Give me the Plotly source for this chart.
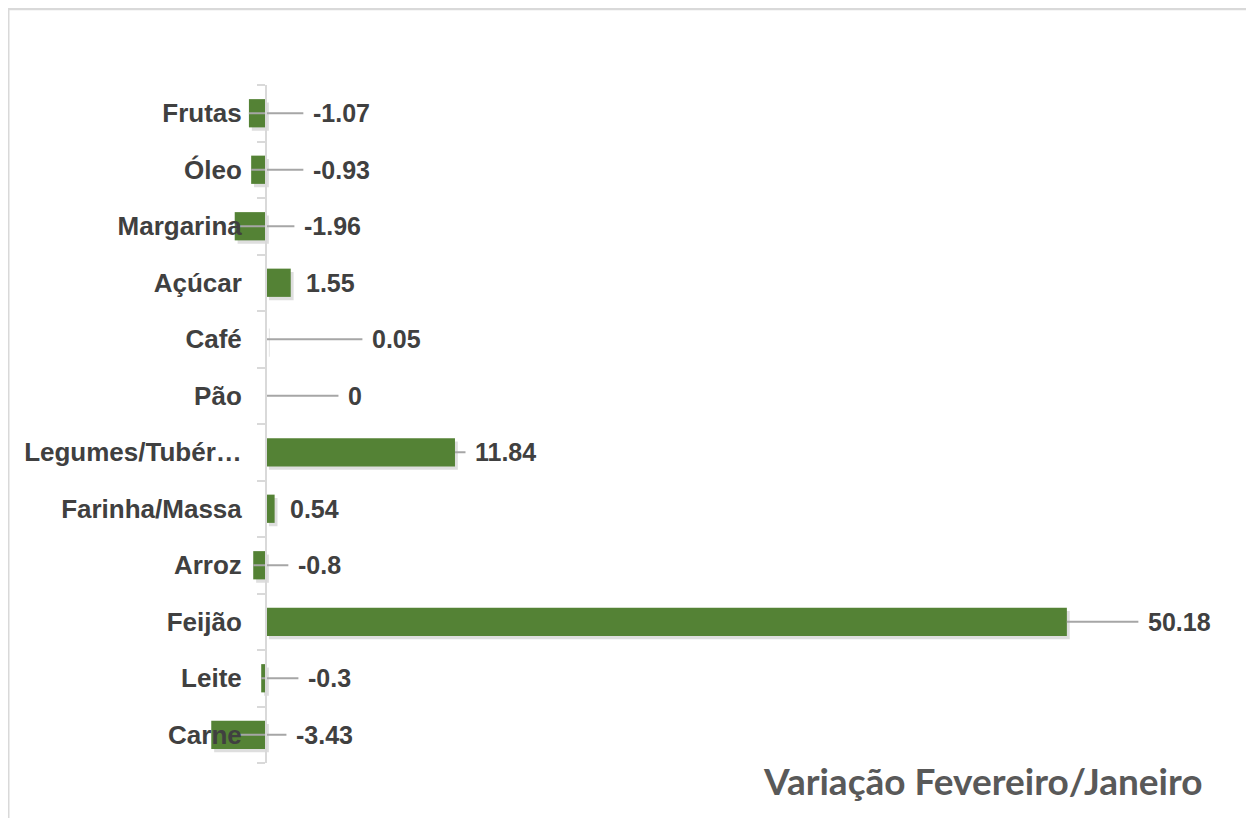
import plotly.graph_objects as go

# ---- data (bottom to top, as drawn) ----
categories = ["Carne", "Leite", "Feijão", "Arroz", "Farinha/Massa", "Legumes/Tubérculos",
              "Pão", "Café", "Açúcar", "Margarina", "Óleo", "Frutas"]
tick_labels = ["Carne", "Leite", "Feijão", "Arroz", "Farinha/Massa", "Legumes/Tubér…",
               "Pão", "Café", "Açúcar", "Margarina", "Óleo", "Frutas"]
values = [-3.43, -0.3, 50.18, -0.8, 0.54, 11.84, 0, 0.05, 1.55, -1.96, -0.93, -1.07]
value_labels = ["-3.43", "-0.3", "50.18", "-0.8", "0.54", "11.84", "0", "0.05", "1.55", "-1.96", "-0.93", "-1.07"]
footer_text = "Variação Fevereiro/Janeiro"

# ---- layout (label placement, in axis units) ----
label_x = [1.78, 2.53, 55.16, 1.9, 1.40, 13.0, 5.04, 6.54, 2.41, 2.28, 2.84, 2.84]
show_leader = [True, True, True, True, False, True, True, True, False, True, True, True]

OFF = 8  # page body margin
W, H = 1254, 818
# page-pixel targets
PLOT_LEFT, PLOT_RIGHT, PLOT_TOP, PLOT_BOTTOM = 200, 1240, 85, 763
L = PLOT_LEFT - OFF
T = PLOT_TOP - OFF
R = W - (PLOT_RIGHT - OFF)
B = H - (PLOT_BOTTOM - OFF)
PX_PER_UNIT = 15.96
ZERO_PX = 266
x_min = (PLOT_LEFT - ZERO_PX) / PX_PER_UNIT
x_max = (PLOT_RIGHT - ZERO_PX) / PX_PER_UNIT
plot_w = PLOT_RIGHT - PLOT_LEFT
plot_h = PLOT_BOTTOM - PLOT_TOP


def px_x(p):
    return (p - PLOT_LEFT) / plot_w


def px_y(p):
    return (PLOT_BOTTOM - p) / plot_h


GREEN = "#548235"
TXT = "#404040"
GRID = "#d9d9d9"

fig = go.Figure()

# subtle shadow
fig.add_trace(go.Bar(
    y=categories, x=values, base=[0.18] * len(values), orientation="h",
    marker=dict(color="rgba(0,0,0,0.13)", line=dict(width=0)),
    width=0.5, offset=-0.31, hoverinfo="skip", showlegend=False,
))
fig.add_trace(go.Bar(
    y=categories, x=values, orientation="h",
    marker=dict(color=GREEN, line=dict(width=0)),
    width=0.5, offset=-0.25, showlegend=False,
))

# leader lines
lx, ly = [], []
for c, v, lab, show in zip(categories, values, label_x, show_leader):
    if not show:
        continue
    start = v if v >= 0 else max(v, -1.63)
    lx += [start, lab - 0.5, None]
    ly += [c, c, None]
fig.add_trace(go.Scatter(x=lx, y=ly, mode="lines", line=dict(color="#a6a6a6", width=2),
                         hoverinfo="skip", showlegend=False))

# data labels
for c, lab, txt in zip(categories, label_x, value_labels):
    fig.add_annotation(x=lab, y=c, text=f"<b>{txt}</b>", showarrow=False, xanchor="left", yanchor="middle",
                       font=dict(family="Liberation Sans, Arial", size=25, color=TXT))

fig.add_annotation(xref="paper", yref="paper", x=px_x(1205), y=px_y(780), text=f"<b>{footer_text}</b>",
                   showarrow=False, xanchor="right", yanchor="middle",
                   font=dict(family="Lato", size=37, color="#595959"))

# chart border (top and left)
fig.add_shape(type="line", xref="paper", yref="paper", x0=px_x(OFF), x1=px_x(W + 20), y0=px_y(9), y1=px_y(9),
              line=dict(color=GRID, width=2.5), layer="below")
fig.add_shape(type="line", xref="paper", yref="paper", x0=px_x(OFF), x1=px_x(OFF), y0=px_y(9), y1=px_y(H + 20),
              line=dict(color=GRID, width=3), layer="below")

fig.update_layout(
    width=W, height=H,
    margin=dict(l=L, r=R, t=T, b=B),
    plot_bgcolor="white", paper_bgcolor="white",
    barmode="overlay",
    xaxis=dict(range=[x_min, x_max], visible=False, showgrid=False, zeroline=False),
    yaxis=dict(
        type="category", categoryorder="array", categoryarray=categories,
        tickvals=categories, ticktext=[f"<b>{t}</b>" for t in tick_labels],
        anchor="free", position=px_x(ZERO_PX), side="left",
        showline=True, linecolor=GRID, linewidth=2,
        ticks="outside", ticklen=8, tickcolor=GRID, tickwidth=2,
        tickson="boundaries", showgrid=False, zeroline=False,
        ticklabelstandoff=18,
        tickfont=dict(family="Liberation Sans, Arial", size=26, color=TXT),
        range=[-0.5, len(categories) - 0.5],
    ),
    font=dict(family="Liberation Sans, Arial"),
)

fig.write_html("out.html")
